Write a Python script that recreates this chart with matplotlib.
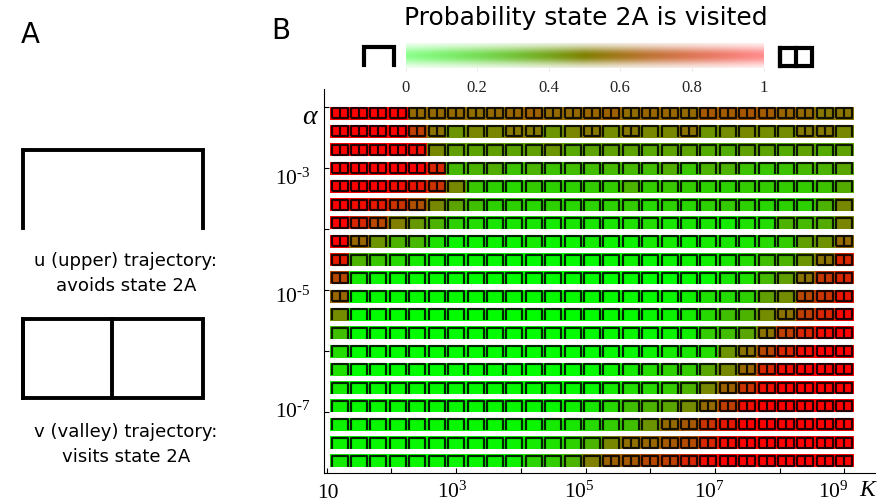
import numpy as np
import matplotlib
matplotlib.use("Agg")
import matplotlib.pyplot as plt
from matplotlib.colors import LinearSegmentedColormap
from matplotlib.path import Path

W, H = 877, 504
SERIF = "Liberation Serif"
plt.rcParams["mathtext.fontset"] = "custom"
plt.rcParams["mathtext.rm"] = SERIF
plt.rcParams["mathtext.it"] = SERIF + ":italic"
plt.rcParams["font.family"] = "DejaVu Sans"

log_K = [1.2 + 0.3 * i for i in range(27)]
log_alpha = [-2.1 - 0.3 * i for i in range(20)]

p00 = [1,1,1,1,.58,.58,.58,.57,.58,.60,.62,.58,.58,.60,.62,.57,.60,.60,.58,.65,.64,.66,.64,.60,.58,.53,.54]
p01 = [1,1,1,1,.75,.55,.42,.48,.48,.53,.52,.42,.48,.53,.45,.53,.47,.47,.55,.42,.45,.47,.45,.45,.52,.52,.47]
p02 = [1,1,1,1,.95,.47,.38,.36,.38,.36,.38,.42,.34,.36,.37,.36,.34,.36,.36,.33,.32,.37,.36,.33,.37,.33,.37]
p03 = [1,1,1,1,1,.85,.28,.3,.32,.24,.3,.24,.26,.26,.27,.27,.26,.32,.22,.3,.3,.24,.22,.24,.28,.3,.35]
p04 = [1,1,1,.95,.92,.8,.47,.22,.18,.16,.2,.18,.18,.2,.2,.3,.2,.22,.2,.18,.18,.2,.2,.2,.2,.24,.33]
p05 = [1,.95,.9,.8,.68,.47,.36,.25,.18,.18,.16,.18,.16,.17,.18,.2,.15,.18,.16,.18,.2,.18,.16,.18,.18,.3,.47]
p06 = [1,.85,.72,.5,.4,.3,.18,.14,.1,.1,.1,.08,.1,.1,.1,.12,.14,.1,.1,.1,.08,.12,.14,.3,.27,.33,.48]
p07 = [1,.6,.42,.3,.28,.12,.05,.05,.05,.05,.08,.05,.05,.08,.05,.05,.08,.08,.05,.08,.1,.1,.15,.2,.38,.43,.58]
p08 = [.9,.3,.22,.15,.08,.05,.03,.03,.03,.02,.02,.02,.02,.02,.03,.05,.03,.05,.05,.06,.1,.14,.25,.3,.42,.55,.85]
p09 = [.72,.08,.04,.03,.02,.02,.01,.01,.01,.01,.01,.01,.01,.01,0,.02,0,.01,.02,.03,.1,.12,.27,.38,.55,.78,.85]
p10 = [.6,.02,.02,.02,.02,.02,.02,.02,.02,.02,.02,.02,.02,.02,.02,.03,.02,.04,.06,.12,.14,.18,.38,.45,.72,.8,.92]
p11 = [.45,.01,.01,.01,.01,.01,.01,.01,.01,.01,.01,.01,.01,.01,.02,.02,.03,.05,.08,.15,.25,.3,.45,.55,.75,.85,.98]
p12 = [.25,.01,.01,.01,.01,.01,.01,.01,.01,.01,.01,.01,.01,.01,.02,.04,.03,.05,.06,.2,.25,.35,.55,.75,.85,.95,1]
p13 = [.13,.01,.01,.01,.01,.01,.01,.01,.01,.01,.01,.01,.01,.01,.02,.03,.05,.08,.1,.14,.42,.55,.72,.85,.95,1,1]
p14 = [.12,.01,.01,.01,.01,.01,.01,.01,.01,.01,.01,.01,.01,.02,.05,.08,.14,.18,.2,.35,.47,.6,.85,.95,1,1,1]
p15 = [.08,.02,.02,.02,.02,.02,.02,.02,.02,.02,.02,.02,.02,.03,.08,.13,.15,.2,.3,.47,.62,.8,.95,1,1,1,1]
p16 = [.06,.03,.03,.03,.03,.03,.03,.03,.03,.03,.03,.03,.06,.1,.15,.25,.3,.35,.45,.58,.75,.95,1,1,1,1,1]
p17 = [.05,.03,.03,.03,.03,.03,.03,.03,.03,.03,.04,.08,.1,.15,.2,.25,.42,.58,.65,.8,.9,1,1,1,1,1,1]
p18 = [.05,.03,.03,.03,.03,.03,.03,.03,.03,.05,.08,.12,.18,.3,.47,.56,.6,.65,.7,.85,.95,1,1,1,1,1,1]
p19 = [.08,.04,.04,.04,.04,.04,.04,.04,.05,.06,.17,.2,.3,.5,.62,.65,.72,.75,.85,.95,1,1,1,1,1,1,1]
rows = [p00,p01,p02,p03,p04,p05,p06,p07,p08,p09,p10,p11,p12,p13,p14,p15,p16,p17,p18,p19]

x_ticks = [10.0**e for e in range(1, 10)]
x_tick_labels = ["10", "10$^{3}$", "10$^{5}$", "10$^{7}$", "10$^{9}$"]
y_ticks = [10.0**e for e in range(-2, -8, -1)]
y_tick_labels = ["10$^{\u20103}$", "10$^{\u20105}$", "10$^{\u20107}$"]
cbar_ticks = [0, 0.2, 0.4, 0.6, 0.8, 1]
cbar_labels = ["0", "0.2", "0.4", "0.6", "0.8", "1"]

cmap = LinearSegmentedColormap.from_list("gr", [(0, 1, 0), (1, 0, 0)])
u_path = Path([(-1, -.68), (-1, .6), (1, .6), (1, -.68)])
v_path = Path([(-1, -.6), (-1, .6), (1, .6), (1, -.6), (-1, -.6), (0, -.6), (0, .6)],
              [1, 2, 2, 2, 2, 1, 2])

fig = plt.figure(figsize=(W / 100, H / 100), dpi=100)
def rect(l, t, r, b):
    return [l / W, 1 - b / H, (r - l) / W, (b - t) / H]

bg = fig.add_axes([0, 0, 1, 1], zorder=0)
bg.set_xlim(0, W); bg.set_ylim(H, 0); bg.axis("off")

# Panel A
lw = 2.8
bg.plot([23, 23, 203, 203], [228, 150, 150, 228], color="k", lw=lw, solid_joinstyle="miter")
bg.plot([23, 23, 203, 203, 23, 23], [319, 398, 398, 319, 319, 398], color="k", lw=lw, solid_joinstyle="miter")
bg.plot([112, 112], [319, 398], color="k", lw=lw)
bg.text(30, 35, "A", fontsize=20, ha="center", va="center")
bg.text(281, 31, "B", fontsize=20, ha="center", va="center")
bg.text(126, 261, "u (upper) trajectory:", fontsize=13.1, ha="center", va="center")
bg.text(126, 286, "avoids state 2A", fontsize=13.1, ha="center", va="center")
bg.text(126, 432, "v (valley) trajectory:", fontsize=13.1, ha="center", va="center")
bg.text(126, 457, "visits state 2A", fontsize=13.1, ha="center", va="center")

# Colour key
bg.text(586, 18, "Probability state 2A is visited", fontsize=18, ha="center", va="center")
bg.plot([364, 364, 394, 394], [65, 47, 47, 65], color="k", lw=3, solid_joinstyle="miter")
bg.plot([779.5, 779.5, 812, 812, 779.5, 779.5], [48, 66, 66, 48, 48, 66], color="k", lw=3, solid_joinstyle="miter")
bg.plot([796, 796], [48, 66], color="k", lw=3)

cax = fig.add_axes(rect(405.5, 43.5, 763.5, 68), zorder=1)
grad = np.linspace(0, 1, 358)
yy = np.linspace(-1, 1, 25)
rgba = cmap(np.tile(grad, (25, 1)))
fade = np.exp(-(yy / 0.75) ** 2)
edge = np.clip(0.45 + 1.1 * np.minimum(grad, 1 - grad), 0, 1)
rgba[..., 3] = fade[:, None] * edge[None, :]
cax.imshow(rgba, extent=[0, 1, 0, 1], aspect="auto", interpolation="bilinear")
cax.set_yticks([])
cax.set_xticks(cbar_ticks, cbar_labels, family=SERIF, fontsize=12)
cax.tick_params(axis="x", length=2, width=0.5, color="#dddddd", pad=7, labelcolor="#222222")
for s in cax.spines.values():
    s.set_visible(False)

# Panel B
AX_TOP = 89
ax = fig.add_axes(rect(323.5, AX_TOP, 875, 473), zorder=2)
ax.set_xscale("log"); ax.set_yscale("log")
ax.set_xlim(10**0.95, 10**9.475)
ax.set_ylim(10**-8.0, 10**(-3 + (168 - AX_TOP) / 61))
half_w = 0.15
half_h = 13 / 61 / 2
edges = 10.0 ** (np.array(log_K + [log_K[-1] + 0.3]) - half_w)
kx = 10.0 ** np.array(log_K)
for la, row in zip(log_alpha, rows):
    vals = np.array(row, dtype=float)
    ax.pcolormesh(edges, [10**(la - half_h), 10**(la + half_h)], vals[None, :],
                  cmap=cmap, vmin=0, vmax=1, shading="flat", antialiased=False)
    ya = np.full(vals.shape, 10.0**la)
    visited = vals > 0.51
    ax.plot(kx[~visited], ya[~visited], ls="none", marker=u_path, ms=11.8, mfc="none",
            mec=(0, 0, 0, .85), mew=1.55, zorder=3)
    ax.plot(kx[visited], ya[visited], ls="none", marker=v_path, ms=11.8, mfc="none",
            mec=(0, 0, 0, .85), mew=1.55, zorder=3)

for s in ("top", "right"):
    ax.spines[s].set_visible(False)
ax.minorticks_off()
ax.set_xticks(x_ticks, [""] * len(x_ticks))
ax.set_yticks(y_ticks, [""] * len(y_ticks))
ax.tick_params(axis="both", direction="in", length=3.6, width=0.8)
ax.patch.set_alpha(0)

for px, lab in zip([328, 452, 579, 709, 833], x_tick_labels):
    bg.text(px, 498, lab, ha="center", va="baseline", family=SERIF, fontsize=15.5)
for py, lab in zip([184.5, 302.5, 418], y_tick_labels):
    bg.text(311, py, lab, ha="right", va="baseline", family=SERIF, fontsize=15.5)
bg.text(309, 117, "\u03b1", family=SERIF, style="italic", fontsize=20, ha="center", va="center")
bg.text(867, 491, "K", family=SERIF, style="italic", fontsize=17, ha="center", va="center")

fig.savefig("out.png", dpi=100)
